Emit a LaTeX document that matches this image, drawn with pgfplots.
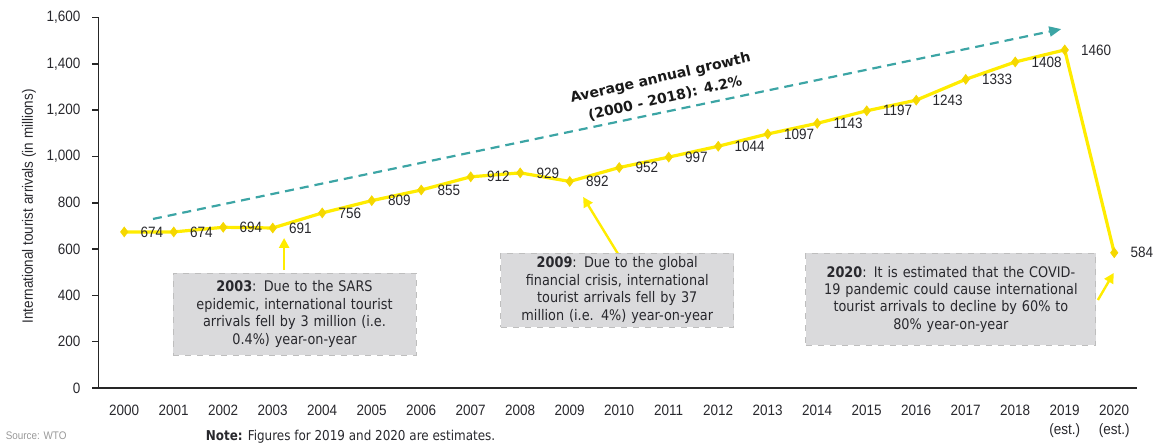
\documentclass[border=0pt]{standalone}
\usepackage{fontspec}
\setmainfont[FakeStretch=0.9]{Liberation Sans}
\newfontfamily\annfont[FakeStretch=0.88]{DejaVu Sans}
\newfontfamily\grfont{DejaVu Sans}
\usepackage{pgfplots}
\pgfplotsset{compat=1.18}
\usetikzlibrary{arrows.meta}
\definecolor{ylw}{RGB}{255,236,0}
\definecolor{ylwmark}{RGB}{245,215,0}
\definecolor{teal2}{RGB}{60,165,165}
\definecolor{boxfill}{RGB}{218,218,220}
\definecolor{boxline}{RGB}{190,190,190}
\definecolor{txt}{RGB}{40,40,45}
\begin{document}
\begin{tikzpicture}
\useasboundingbox (0,0) rectangle (581.5pt,221.5pt);
\begin{axis}[
  at={(49.25pt,27.5pt)}, anchor=south west,
  scale only axis, width=519.25pt, height=185.25pt,
  xmin=1999.48, xmax=2020.46, ymin=0, ymax=1600,
  clip=false,
  axis x line*=bottom, axis y line*=left,
  axis line style={line width=0.9pt, color=black!85, -},
  tick align=outside,
  xtick={2000,2001,...,2020},
  xticklabels={2000,2001,2002,2003,2004,2005,2006,2007,2008,2009,2010,2011,2012,2013,2014,2015,2016,2017,2018,{2019\\(est.)},{2020\\(est.)}},
  xtick style={draw=none},
  ytick={0,200,...,1600},
  ytick style={line width=0.8pt, color=black!85},
  major tick length=3pt,
  /pgf/number format/assume math mode=true,
  /pgf/number format/1000 sep={},
  yticklabel style={/pgf/number format/1000 sep={,}, xshift=-2.5pt},
  xticklabel style={align=center, yshift=-2pt},
  tick label style={font=\fontsize{7.5}{9.6}\selectfont, text=txt},
  every axis y label/.style={at={(axis description cs:-0.0669,0.49)}, rotate=90, anchor=center, font=\fontsize{7.5}{9}\selectfont, text=txt},
  ylabel={International tourist arrivals (in millions)},
  nodes near coords={\pgfmathprintnumber[1000 sep={}]{\pgfplotspointmeta}},
  every node near coord/.append style={anchor=west, inner sep=0pt, xshift=8pt, font=\fontsize{7.5}{9}\selectfont, text=txt},
]
\addplot[color=ylw, line width=1.6pt, mark=diamond*, mark size=2.4pt, mark options={fill=ylwmark, draw=ylwmark, line width=0.4pt}]
coordinates {
(2000,674) (2001,674) (2002,694) (2003,691) (2004,756) (2005,809) (2006,855)
(2007,912) (2008,929) (2009,892) (2010,952) (2011,997) (2012,1044) (2013,1097)
(2014,1143) (2015,1197) (2016,1243) (2017,1333) (2018,1408) (2019,1460) (2020,584)
};
\draw[teal2, line width=1.1pt, dash pattern=on 4.5pt off 3pt, -{Triangle[length=6pt,width=5pt]}]
  (axis cs:2000.58,730) -- (axis cs:2018.93,1550);
\node[rotate=13, align=center, text=black!90, font=\grfont\bfseries\fontsize{7}{10.5}\selectfont]
  at (axis cs:2010.88,1295) {Average annual growth\\(2000 - 2018): 4.2\%};
\draw[ylw, line width=1.2pt, -{Triangle[length=5pt,width=5pt]}] (axis cs:2003.23,509) -- (axis cs:2003.23,648);
\draw[ylw, line width=1.2pt, -{Triangle[length=5pt,width=5pt]}] (axis cs:2009.99,574) -- (axis cs:2009.27,825);
\draw[ylw, line width=1.2pt, -{Triangle[length=5pt,width=5pt]}] (axis cs:2019.67,380) -- (axis cs:2019.99,497);
\node[fill=boxfill, draw=boxline, dashed, line width=0.5pt, inner sep=0pt, minimum width=121.5pt, minimum height=41pt, text width=121.5pt, align=center, text=txt, font=\annfont\fontsize{7.3}{8.7}\selectfont]
  at (axis cs:2003.44,319.5) {\textbf{2003}: Due to the SARS\\epidemic, international tourist\\arrivals fell by 3 million (i.e.\\0.4\%) year-on-year};
\node[fill=boxfill, draw=boxline, dashed, line width=0.5pt, inner sep=0pt, minimum width=116.5pt, minimum height=37pt, text width=116.5pt, align=center, text=txt, font=\annfont\fontsize{7.3}{8.7}\selectfont]
  at (axis cs:2009.96,423) {\textbf{2009}: Due to the global\\financial crisis, international\\tourist arrivals fell by 37\\million (i.e. 4\%) year-on-year};
\node[fill=boxfill, draw=boxline, dashed, line width=0.5pt, inner sep=0pt, minimum width=145pt, minimum height=46pt, text width=145pt, align=center, text=txt, font=\annfont\fontsize{7.3}{8.7}\selectfont]
  at (axis cs:2016.70,384) {\textbf{2020}: It is estimated that the COVID-\\19 pandemic could cause international\\tourist arrivals to decline by 60\% to\\80\% year-on-year};
\node[anchor=north west, inner sep=0pt, text=black!40, font=\fontsize{5.5}{6.5}\selectfont] at (axis cs:1997.60,-188) {Source: WTO};
\node[anchor=north west, inner sep=0pt, text=txt, font=\annfont\fontsize{6.8}{8}\selectfont] at (axis cs:2001.64,-180) {\textbf{Note:} Figures for 2019 and 2020 are estimates.};
\end{axis}
\end{tikzpicture}
\end{document}
